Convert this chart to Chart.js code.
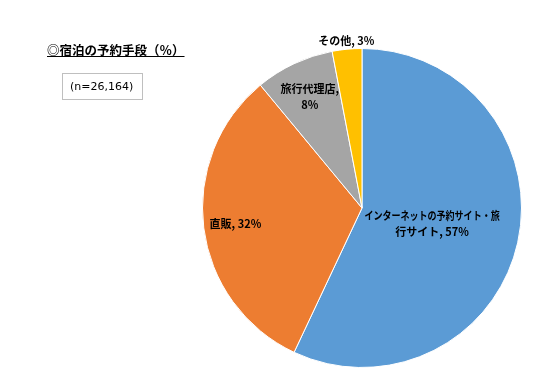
<!DOCTYPE html>
<html lang="ja">
<head>
    <title>宿泊の予約手段</title>
    <script src="https://cdn.jsdelivr.net/npm/chart.js"></script>
    <style>
        body {
            margin: 0;
            background: #ffffff;
            font-family: 'Noto Sans CJK JP', sans-serif;
        }
        .wrap {
            position: relative;
            width: 556px;
            height: 388px;
        }
        .title {
            position: absolute;
            left: 47px;
            top: 40px;
            font-size: 12.5px;
            font-weight: bold;
            text-decoration: underline;
            color: #000;
            white-space: nowrap;
        }
        .nbox {
            position: absolute;
            left: 62px;
            top: 73px;
            width: 81px;
            height: 27px;
            border: 1px solid #bfbfbf;
            box-sizing: border-box;
            font-family: 'DejaVu Sans', sans-serif;
            font-size: 11px;
            line-height: 25px;
            padding-left: 7px;
            color: #000;
        }
        #pieChart { position: absolute; left: 0; top: 0; }
    </style>
</head>
<body>
    <div class="wrap">
        <canvas id="pieChart" width="556" height="388"></canvas>
        <div class="title">◎宿泊の予約手段（％）</div>
        <div class="nbox">(n=26,164)</div>
    </div>

    <script>
        const categories = ['インターネットの予約サイト・旅行サイト', '直販', '旅行代理店', 'その他'];
        const values = [57, 32, 8, 3];
        const colors = ['#5b9bd5', '#ed7d31', '#a5a5a5', '#ffc000'];
        // ラベルの表示（改行位置）
        const labelLines = [
            ['インターネットの予約サイト・旅', '行サイト, 57%'],
            ['直販, 32%'],
            ['旅行代理店,', '8%'],
            ['その他, 3%']
        ];
        const labelRadius = [0.45, 0.8, 0.77, 1.05];
        // 横方向の詰め（行ごと）
        const lineScale = [[0.82, 1], [1], [1, 1], [1]];

        // データラベル
        const pieLabels = {
            id: 'pieLabels',
            afterDatasetsDraw(chart) {
                const c = chart.ctx;
                const meta = chart.getDatasetMeta(0);
                c.save();
                c.font = 'bold 11px "Noto Sans CJK JP", sans-serif';
                c.fillStyle = '#000';
                c.textAlign = 'center';
                c.textBaseline = 'middle';
                meta.data.forEach((arc, i) => {
                    const a = (arc.startAngle + arc.endAngle) / 2;
                    const r = arc.outerRadius * labelRadius[i];
                    const x = arc.x + Math.cos(a) * r;
                    const y = arc.y + Math.sin(a) * r;
                    const lines = labelLines[i];
                    const lh = 16;
                    lines.forEach((t, k) => {
                        const s = lineScale[i][k];
                        c.save();
                        c.translate(x, y + (k - (lines.length - 1) / 2) * lh);
                        c.scale(s, 1);
                        c.fillText(t, 0, 0);
                        c.restore();
                    });
                });
                c.restore();
            }
        };

        new Chart(document.getElementById('pieChart'), {
            type: 'pie',
            data: {
                labels: categories,
                datasets: [{
                    data: values,
                    backgroundColor: colors,
                    borderColor: '#ffffff',
                    borderWidth: 1
                }]
            },
            options: {
                responsive: false,
                animation: false,
                layout: { padding: { left: 202, right: 34, top: 48, bottom: 20 } },
                plugins: {
                    legend: { display: false },
                    tooltip: { enabled: false }
                }
            },
            plugins: [pieLabels]
        });
    </script>
</body>
</html>
